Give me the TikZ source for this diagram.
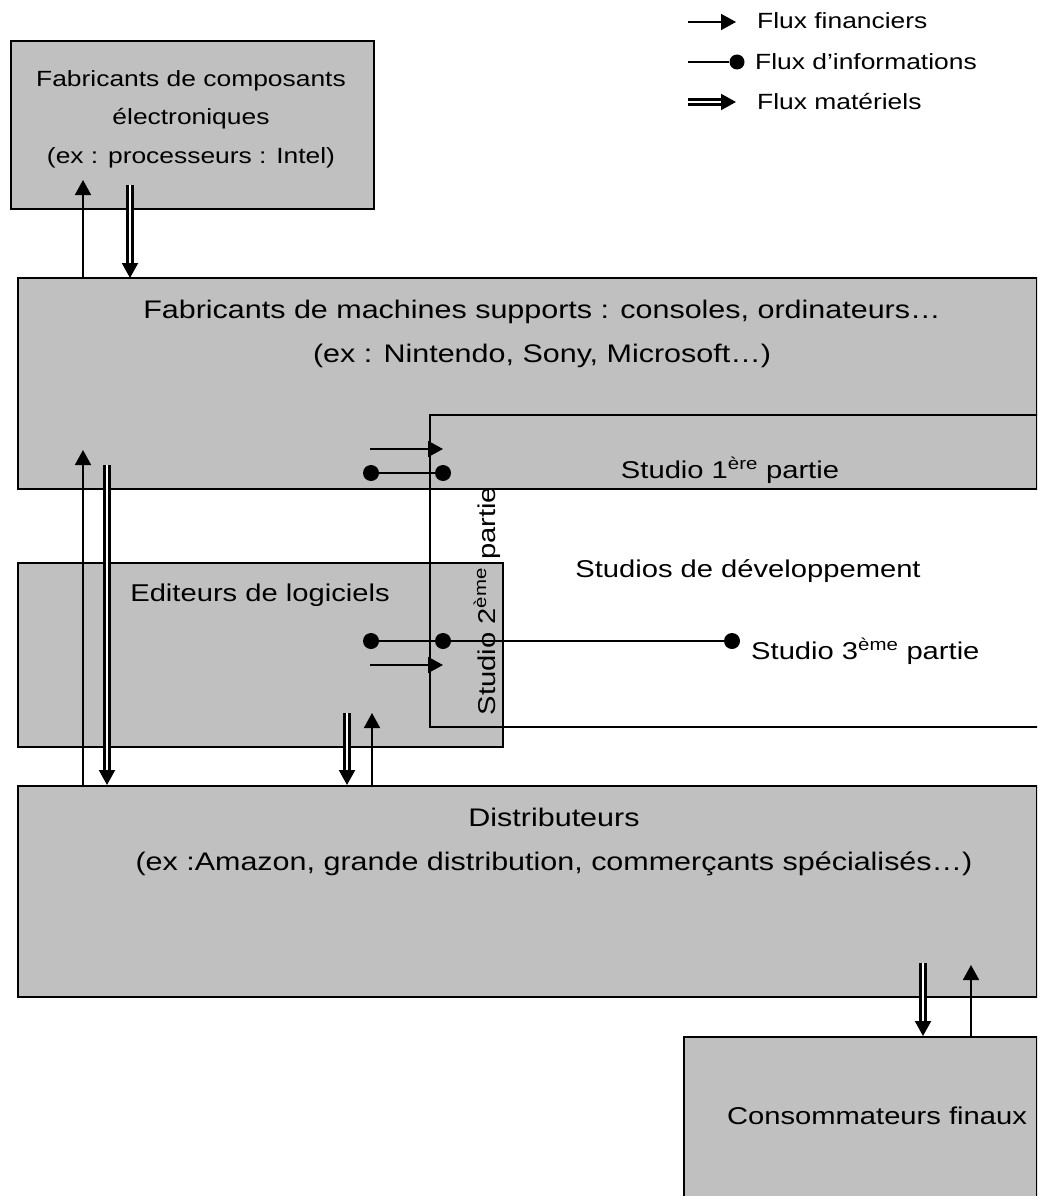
\documentclass[tikz,border=0pt]{standalone}
\usepackage{fontspec}
\setmainfont{Liberation Sans}[FakeStretch=1.2]
\usepackage{tikz}
\usetikzlibrary{arrows.meta,positioning}
\definecolor{boxgray}{RGB}{192,192,192}

\begin{document}
\begin{tikzpicture}[x=1pt,y=-1pt,
  boite/.style={draw,line width=2pt,fill=boxgray,anchor=north west,inner sep=0pt},
  txt/.style={font=\fontsize{24.3}{38.5}\selectfont,align=center,inner sep=0pt},
  grand/.style={txt,font=\fontsize{25.4}{38.5}\selectfont},
  petit/.style={txt,font=\fontsize{22}{38.5}\selectfont},
  leg/.style={font=\fontsize{22}{25}\selectfont,anchor=west,inner sep=0pt},
  fin/.style={line width=1.8pt,-{Triangle[length=15pt,width=16pt]}},
  mat/.style={double,double distance=2.7pt,line width=2.2pt,-{Triangle[length=15pt,width=16pt]}},
  info/.style={line width=1.8pt},
  dot/.style={circle,fill,inner sep=0pt,minimum size=16pt}]
  \clip (0,0) rectangle (1037,1196);
  \node[boite,minimum width=363pt,minimum height=168pt] (compo) at (10,40) {};
  \node[boite,minimum width=1019pt,minimum height=211pt] (machines) at (17,277) {};
  \node[boite,minimum width=485pt,minimum height=184pt] (editeurs) at (17,562) {};
  \node[boite,minimum width=1019pt,minimum height=211pt] (distrib) at (17,785) {};
  \node[boite,minimum width=353pt,minimum height=170pt] (conso) at (683,1036) {};
  \draw[line width=2pt] (1040,415) -| (430,727) -- (1040,727);
  \node[petit] at (191,119) {Fabricants de composants\\électroniques\\(ex : processeurs : Intel)};
  \node[grand] at (542,334) {Fabricants de machines supports : consoles, ordinateurs…\\[5.5pt](ex : Nintendo, Sony, Microsoft…)};
  \node[txt] at (260,595) {Editeurs de logiciels};
  \node[txt] at (730,470) {Studio 1\textsuperscript{ère} partie};
  \node[txt] at (748,571) {Studios de développement};
  \node[txt,anchor=west] at (751,651) {Studio 3\textsuperscript{ème} partie};
  \node[txt,rotate=90] at (487,601) {Studio 2\textsuperscript{ème} partie};
  \node[grand] at (554,842) {Distributeurs\\[5.5pt](ex :Amazon, grande distribution, commerçants spécialisés…)};
  \node[txt] at (877,1116) {Consommateurs finaux};
  \node[leg] (lfin) at (757,21) {Flux financiers};
  \node[leg] (linfo) at (755,62) {Flux d’informations};
  \node[leg] (lmat) at (757,102) {Flux matériels};
  \coordinate (f0) at (688,22);
  \coordinate (f1) at (736,22);
  \coordinate (g0) at (688,62);
  \node[dot,minimum size=15pt] (g1) at (737,62) {};
  \coordinate (m0) at (688,102);
  \coordinate (m1) at (736,102);
  \draw[fin] (f0) -- (f1);
  \draw[info] (g0) -- (g1);
  \draw[mat] (m0) -- (m1);
  \coordinate (ab0) at (83,277);
  \coordinate (ab1) at (83,180);
  \coordinate (ab2) at (130,185);
  \coordinate (ab3) at (130,278);
  \draw[fin] (ab0) -- (ab1);
  \draw[mat] (ab2) -- (ab3);
  \coordinate (bd0) at (83,785);
  \coordinate (bd1) at (83,450);
  \coordinate (bd2) at (107,465);
  \coordinate (bd3) at (107,785);
  \draw[fin] (bd0) -- (bd1);
  \draw[mat] (bd2) -- (bd3);
  \coordinate (cd0) at (347,713);
  \coordinate (cd1) at (347,785);
  \coordinate (cd2) at (372,785);
  \coordinate (cd3) at (372,713);
  \draw[mat] (cd0) -- (cd1);
  \draw[fin] (cd2) -- (cd3);
  \coordinate (de0) at (923,963);
  \coordinate (de1) at (923,1036);
  \coordinate (de2) at (971,1036);
  \coordinate (de3) at (971,965);
  \draw[mat] (de0) -- (de1);
  \draw[fin] (de2) -- (de3);
  \coordinate (s0) at (370,449);
  \coordinate (s1) at (443,449);
  \coordinate (s2) at (370,665);
  \coordinate (s3) at (443,665);
  \draw[fin] (s0) -- (s1);
  \draw[fin] (s2) -- (s3);
  \node[dot] (i1) at (371,473) {};
  \node[dot] (i2) at (443,473) {};
  \node[dot] (i3) at (371,641) {};
  \node[dot] (i4) at (443,641) {};
  \node[dot] (i5) at (732,641) {};
  \draw[info] (i1) -- (i2);
  \draw[info] (i3) -- (i4) -- (i5);
\end{tikzpicture}
\end{document}
